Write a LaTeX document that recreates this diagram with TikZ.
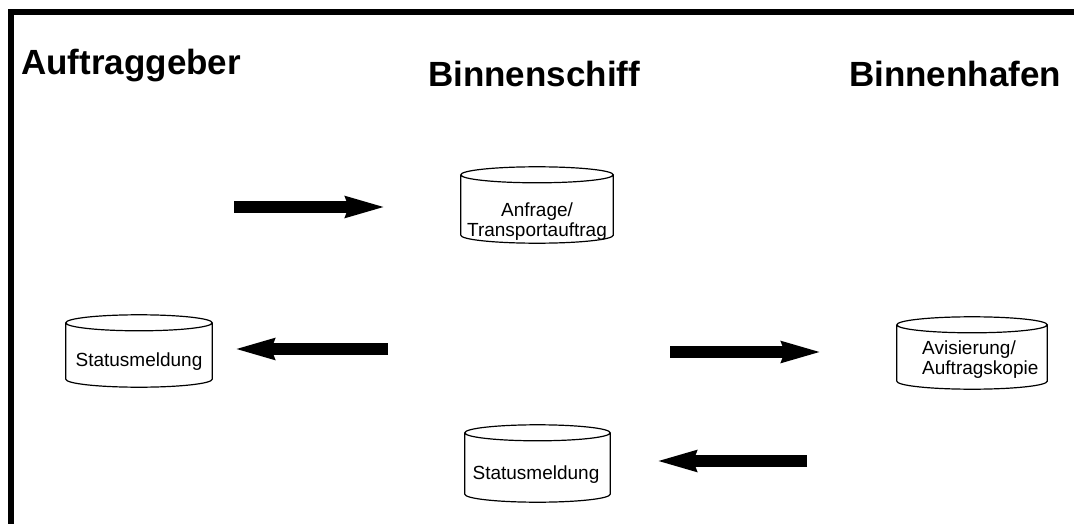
\documentclass[tikz,border=0pt]{standalone}
\usepackage{fontspec}
\setmainfont{Liberation Sans}
\usetikzlibrary{positioning, arrows.meta, calc}

% cylinder outline round a drum node
\newcommand{\drum}[1]{%
  \draw[drumline] let \p1=(#1.north west), \p2=(#1.south east), \n1={(\x2-\x1)/2} in
    ($(#1.north)+(0,-8)$) ellipse [x radius=\n1, y radius=8pt]
    (\x1,\y1-8pt) -- (\x1,\y2+8pt) arc [start angle=180, end angle=360, x radius=\n1, y radius=8pt] -- (\x2,\y1-8pt);
}

\begin{document}
\begin{tikzpicture}[
    x=1pt, y=1pt,
    head/.style={font=\fontsize{35}{40}\selectfont\bfseries, anchor=base west, inner sep=0},
    drum/.style={rectangle, inner sep=0},
    drumtext/.style={font=\fontsize{19}{20}\selectfont, align=center, inner sep=0},
    drumline/.style={line width=1.2, color=black},
    bigarrow/.style={line width=12, -{Stealth[length=40pt, width=19pt, inset=2pt]}}
]
\useasboundingbox (0,0) rectangle (1074,-524);

% frame
\draw[line width=6] (11,-524) -- (11,-12.5) -- (1074,-12.5);

% column headings
\node[head] (Auftraggeber) at (21,-75) {Auftraggeber};
\node[head] (Binnenschiff) at (428,-87) {Binnenschiff};
\node[head] (Binnenhafen) at (849,-87) {Binnenhafen};

% drums
\node[drum, minimum width=152, minimum height=76] (Anfrage) at (537,-205) {};
\node[drumtext] (AnfrageText) at ([yshift=-17]Anfrage.center) {Anfrage/\\Transportauftrag};

\node[drum, minimum width=146, minimum height=72] (StatusLeft) at (139,-351) {};
\node[drumtext] (StatusLeftText) at (139,-362) {Statusmeldung};

\node[drum, minimum width=150, minimum height=72] (Avis) at (972,-353) {};
\node[drumtext, align=left, anchor=west] (AvisText) at (922,-360) {Avisierung/\\Auftragskopie};

\node[drum, minimum width=145, minimum height=77] (StatusBottom) at (537.5,-463.5) {};
\node[drumtext] (StatusBottomText) at (536,-475) {Statusmeldung};

\drum{Anfrage}
\drum{StatusLeft}
\drum{Avis}
\drum{StatusBottom}

% arrow ends
\coordinate (a1s) at (234,-207);
\coordinate (a1e) at (387,-207);
\coordinate (a2s) at (388,-349);
\coordinate (a2e) at (233,-349);
\coordinate (a3s) at (670,-352);
\coordinate (a3e) at (823,-352);
\coordinate (a4s) at (807,-461);
\coordinate (a4e) at (655,-461);

% arrows
\draw[bigarrow] (a1s) -- (a1e);
\draw[bigarrow] (a2s) -- (a2e);
\draw[bigarrow] (a3s) -- (a3e);
\draw[bigarrow] (a4s) -- (a4e);

\end{tikzpicture}
\end{document}
